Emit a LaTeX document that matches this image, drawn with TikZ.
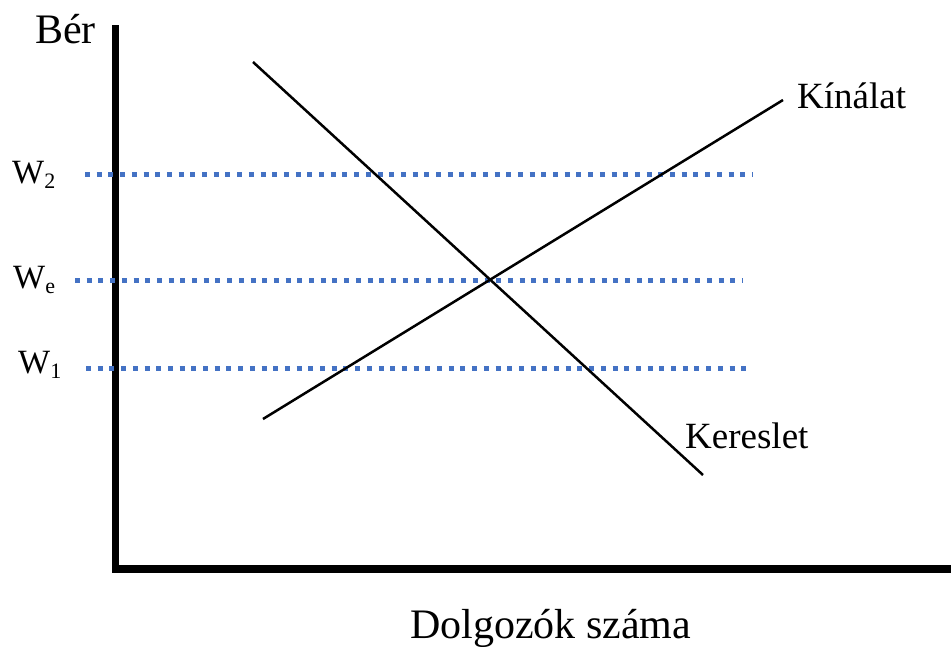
\documentclass[tikz,border=0pt]{standalone}
\usepackage{fontspec}
\setmainfont{Liberation Serif}
\definecolor{dotblue}{HTML}{4472C4}
\newcommand{\wsub}[1]{W\raisebox{-5pt}{\fontsize{22}{22}\selectfont #1}}
\begin{document}
\begin{tikzpicture}[x=1pt,y=-1pt,
  axis/.style={line width=7.5pt},
  curve/.style={line width=2.5pt},
  wage/.style={dotblue,line width=5pt,dash pattern=on 5pt off 6.7pt},
  big/.style={inner sep=0pt,anchor=base west,font=\fontsize{42}{50}\selectfont},
  mid/.style={inner sep=0pt,anchor=base west,font=\fontsize{37}{44}\selectfont},
  wlab/.style={inner sep=0pt,anchor=base west,font=\fontsize{34}{40}\selectfont}]
\useasboundingbox (0,0) rectangle (951,646);
% axes
\coordinate (ytop) at (115.5,25);
\coordinate (ybot) at (115.5,572.5);
\coordinate (xstart) at (115,569);
\coordinate (xend) at (951,569);
\draw[axis] (ytop) -- (ybot);
\draw[axis] (xstart) -- (xend);
% wage lines
\coordinate (w2a) at (85,174.5);
\coordinate (w2b) at (752,174.5);
\coordinate (wea) at (75,280.5);
\coordinate (web) at (742,280.5);
\coordinate (w1a) at (86,368.5);
\coordinate (w1b) at (752,368.5);
\draw[wage] (w2a) -- (w2b);
\draw[wage] (wea) -- (web);
\draw[wage] (w1a) -- (w1b);
% curves
\coordinate (d1) at (253,62);
\coordinate (d2) at (703,475);
\coordinate (s1) at (263,419);
\coordinate (s2) at (783,100);
\draw[curve] (d1) -- (d2);
\draw[curve] (s1) -- (s2);
% labels
\node[big] (ber) at (35,43) {Bér};
\node[big] (dolg) at (410,638) {Dolgozók száma};
\node[mid] (kin) at (797,108) {Kínálat};
\node[mid] (ker) at (685,448) {Kereslet};
\node[wlab] (lw2) at (12,183) {\wsub{2}};
\node[wlab] (lwe) at (13,288) {\wsub{e}};
\node[wlab] (lw1) at (18,373) {\wsub{1}};
\end{tikzpicture}
\end{document}
